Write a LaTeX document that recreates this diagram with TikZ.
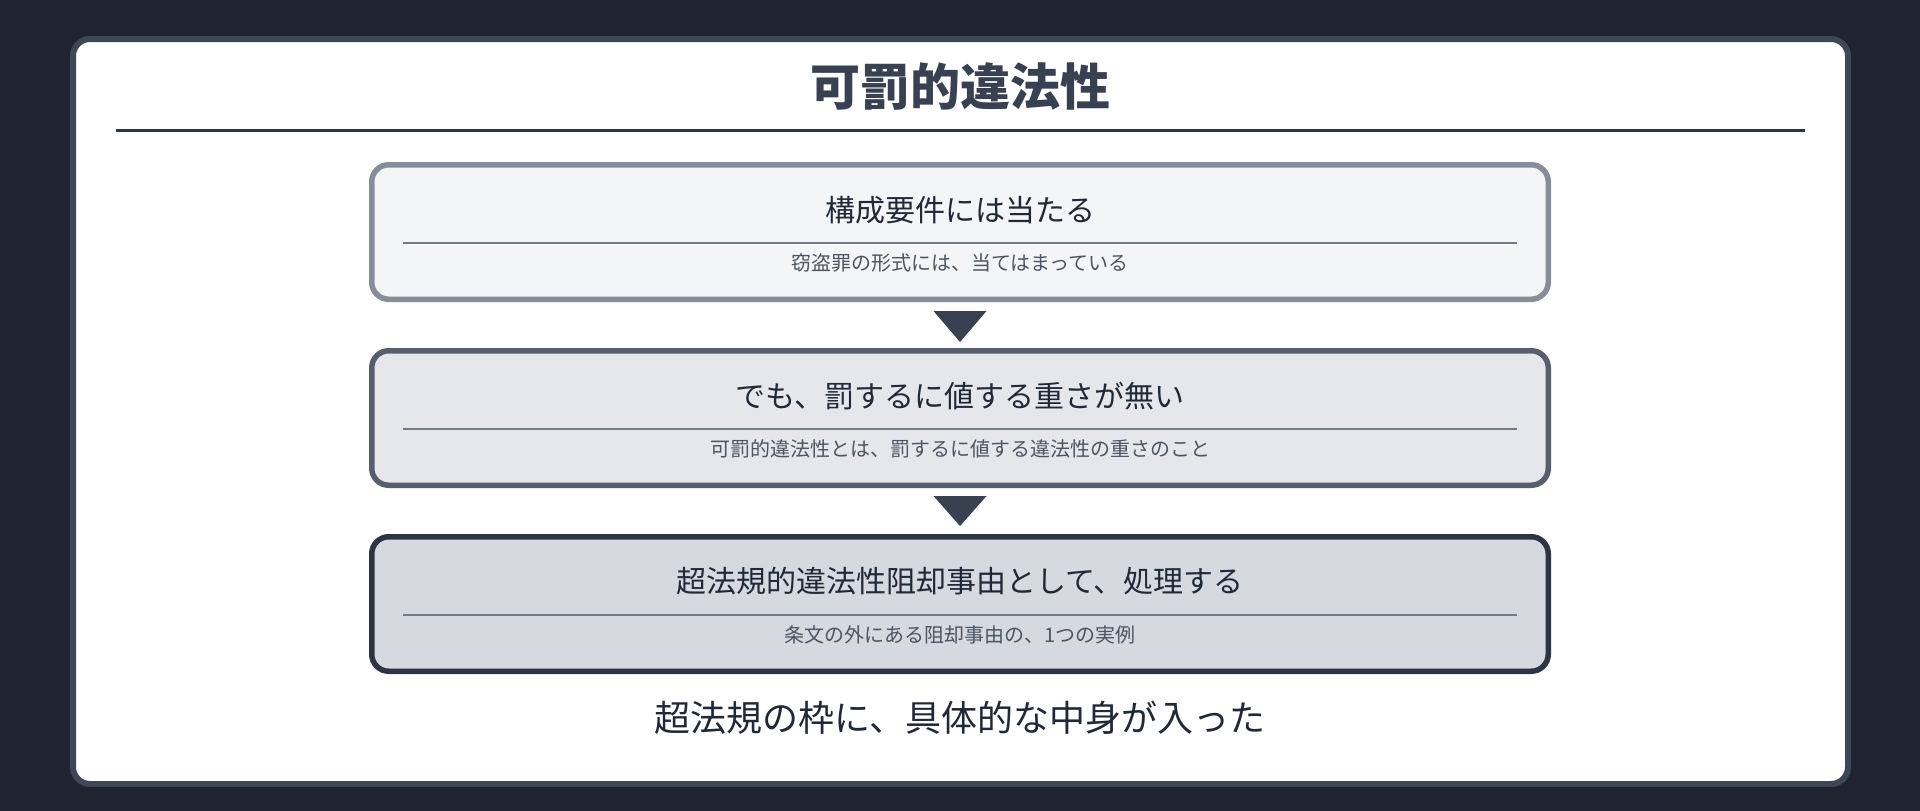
\documentclass[tikz,border=0pt]{standalone}
\usepackage{fontspec}
\setmainfont{Noto Sans CJK JP}
\usepackage{tikz}
\usetikzlibrary{positioning,calc}

\definecolor{bgdark}{HTML}{1F2530}
\definecolor{framegray}{HTML}{3E4757}
\definecolor{titlegray}{HTML}{374151}
\definecolor{titlerule}{HTML}{2D3544}
\definecolor{fillA}{HTML}{F4F5F7}
\definecolor{drawA}{HTML}{858D9A}
\definecolor{fillB}{HTML}{E5E7EB}
\definecolor{drawB}{HTML}{575F6E}
\definecolor{fillC}{HTML}{D5D9E0}
\definecolor{drawC}{HTML}{2D3544}
\definecolor{rulegray}{HTML}{737B89}
\definecolor{txtmain}{HTML}{1F2937}
\definecolor{txtsub}{HTML}{4B5563}
\definecolor{arrowgray}{HTML}{374151}

\begin{document}
\begin{tikzpicture}[x=1pt, y=-1pt,
  card/.style={draw, rounded corners=17pt, line width=5.5pt, minimum width=1176.5pt, minimum height=134.5pt},
  head/.style={font=\fontsize{30}{36}\selectfont, text=txtmain},
  note/.style={font=\fontsize{20}{24}\selectfont, text=txtsub},
  sep/.style={draw=rulegray, line width=2.5pt},
  tri/.style={fill=arrowgray}
]
% background and frame
\fill[bgdark] (0,0) rectangle (1920,811);
\useasboundingbox (0,0) rectangle (1920,811);
\draw[framegray, fill=white, line width=6pt, rounded corners=17pt] (73,39) rectangle (1848,784);

\node[font=\fontsize{50}{60}\selectfont\bfseries, text=titlegray] (title) at (960,86) {可罰的違法性};
\draw[titlerule, line width=3pt] (116,130.5) -- (1805,130.5);

% three stages
\node[card, draw=drawA, fill=fillA] (box1) at (960,232) {};
\node[card, draw=drawB, fill=fillB, below=46pt of box1] (box2) {};
\node[card, draw=drawC, fill=fillC, below=46pt of box2] (box3) {};

\node[head] (head1) at ($(box1.north)+(0,48)$) {構成要件には当たる};
\node[head] (head2) at ($(box2.north)+(0,48)$) {でも、罰するに値する重さが無い};
\node[head] (head3) at ($(box3.north)+(0,47)$) {超法規的違法性阻却事由として、処理する};

\foreach \b in {box1,box2,box3}
  \draw[sep] ($(\b.north west)+(34,81)$) -- ($(\b.north east)+(-34,81)$);

\node[note] (note1) at ($(box1.north)+(0,101)$) {窃盗罪の形式には、当てはまっている};
\node[note] (note2) at ($(box2.north)+(0,101)$) {可罰的違法性とは、罰するに値する違法性の重さのこと};
\node[note] (note3) at ($(box3.north)+(0,101)$) {条文の外にある阻却事由の、1つの実例};

% arrows between stages
\fill[tri] ($(box1.south)+(-26.5,9)$) -- ($(box1.south)+(26.5,9)$) -- ($(box1.south)+(0,40)$) -- cycle;
\fill[tri] ($(box2.south)+(-26.5,8)$) -- ($(box2.south)+(26.5,8)$) -- ($(box2.south)+(0,38)$) -- cycle;

\node[font=\fontsize{36}{43}\selectfont, text=txtmain] (summary) at ($(box3.south)+(0,44)$) {超法規の枠に、具体的な中身が入った};
\end{tikzpicture}
\end{document}
